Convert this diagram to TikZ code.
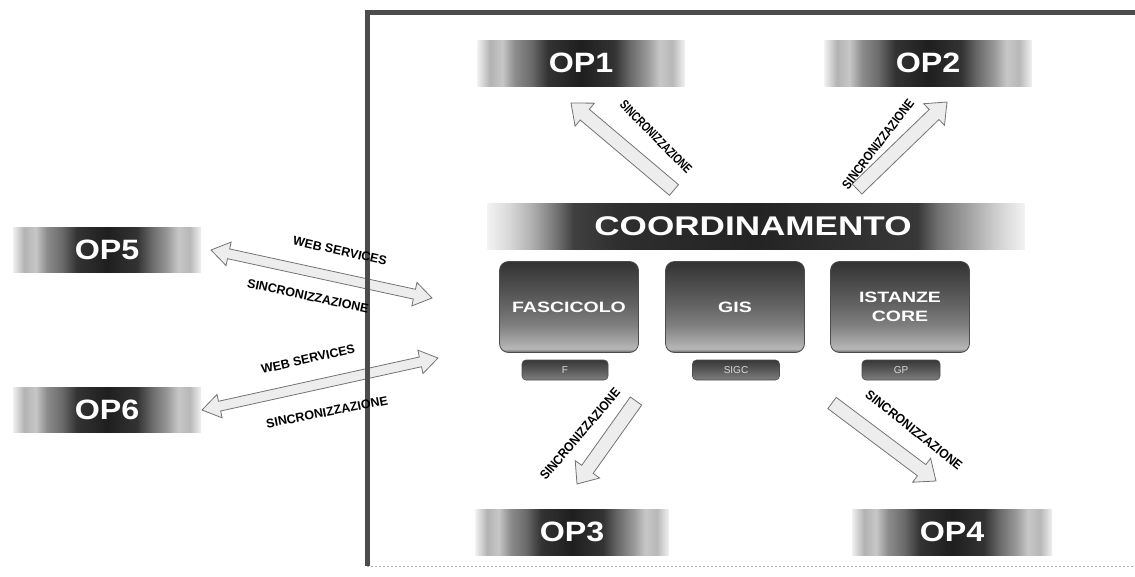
\documentclass[tikz,border=0pt]{standalone}
\usepackage{fontspec}
\usepackage{graphicx}
\setmainfont{Liberation Sans}
\usetikzlibrary{calc}
\pgfdeclarehorizontalshading{opshade}{100bp}{color(0bp)=(black!6); color(25bp)=(black!6); color(28bp)=(black!30); color(31bp)=(black!22); color(34bp)=(black!45); color(38bp)=(black!58); color(42bp)=(black!80); color(50bp)=(black!88); color(58bp)=(black!80); color(62bp)=(black!58); color(66bp)=(black!40); color(69bp)=(black!22); color(72bp)=(black!28); color(75bp)=(black!6); color(100bp)=(black!6)}
\pgfdeclarehorizontalshading{coordshade}{100bp}{color(0bp)=(black!5); color(25bp)=(black!5); color(27bp)=(black!15); color(29bp)=(black!30); color(31bp)=(black!50); color(33bp)=(black!75); color(37.5bp)=(black!82); color(50bp)=(black!86); color(65bp)=(black!78); color(67bp)=(black!55); color(70bp)=(black!35); color(72.5bp)=(black!18); color(75bp)=(black!5); color(100bp)=(black!5)}
\pgfdeclareverticalshading{boxshade}{100bp}{color(0bp)=(black!62); color(25bp)=(black!62); color(27bp)=(black!28); color(31bp)=(black!35); color(40bp)=(black!50); color(50bp)=(black!60); color(62bp)=(black!70); color(75bp)=(black!80); color(100bp)=(black!80)}
\pgfdeclareverticalshading{smallshade}{100bp}{color(0bp)=(black!50); color(25bp)=(black!50); color(50bp)=(black!65); color(75bp)=(black!78); color(100bp)=(black!78)}
\newcommand{\blkarrow}[4]{%
  \coordinate (tmpH) at ($(#2)!18pt!(#1)$);
  \filldraw[blockarr] ($(#1)!#3!90:(#2)$) -- ($(tmpH)!#3!90:(#2)$) -- ($(tmpH)!#4!90:(#2)$) -- (#2) -- ($(tmpH)!#4!-90:(#2)$) -- ($(tmpH)!#3!-90:(#2)$) -- ($(#1)!#3!-90:(#2)$) -- cycle;}
\newcommand{\dblarrow}[4]{%
  \coordinate (tmpH) at ($(#2)!18pt!(#1)$);
  \coordinate (tmpT) at ($(#1)!18pt!(#2)$);
  \filldraw[blockarr] (#1) -- ($(tmpT)!#4!90:(#2)$) -- ($(tmpT)!#3!90:(#2)$) -- ($(tmpH)!#3!90:(#2)$) -- ($(tmpH)!#4!90:(#2)$) -- (#2) -- ($(tmpH)!#4!-90:(#2)$) -- ($(tmpH)!#3!-90:(#2)$) -- ($(tmpT)!#3!-90:(#2)$) -- ($(tmpT)!#4!-90:(#2)$) -- cycle;}
\begin{document}
\begin{tikzpicture}[x=1pt,y=-1pt,
  opbox/.style={shading=opshade, minimum width=207pt, minimum height=46pt, inner sep=0pt, text=white, font=\fontsize{28}{28}\selectfont\bfseries},
  coordbar/.style={shading=coordshade, minimum width=537pt, minimum height=46pt, inner sep=0pt},
  modbox/.style={rounded corners=9pt, shading=boxshade, draw=black!70, line width=0.8pt, minimum width=139pt, minimum height=91pt, inner sep=0pt, text=white, align=center, font=\fontsize{15}{19}\selectfont\bfseries},
  smallbox/.style={rounded corners=4pt, shading=smallshade, draw=black!70, line width=0.6pt, minimum height=20pt, inner sep=0pt, text=black!15, font=\fontsize{10}{10}\selectfont},
  blockarr/.style={fill=black!7, draw=black!55, line width=0.8pt, line join=miter},
  lbl/.style={font=\fontsize{12.5}{12.5}\selectfont\bfseries, inner sep=0pt, text=black},
  dlbl/.style={font=\fontsize{13}{13}\selectfont\bfseries, inner sep=0pt, text=black},
  frameline/.style={draw=black!70, line width=5pt},
  bigtext/.style={text=white, inner sep=0pt, font=\fontsize{27}{27}\selectfont\bfseries}
]
\useasboundingbox (0,0) rectangle (1135,576);
% frame
\draw[black!30, line width=1pt, dash pattern=on 2pt off 2pt] (367,566) -- (1135,566);
% OP nodes
\node[opbox] (op1) at (581,63) {\scalebox{1.15}[1]{OP1}};
\node[opbox] (op2) at (928,63) {\scalebox{1.15}[1]{OP2}};
\node[opbox, minimum width=193pt] (op3) at (572,532) {\scalebox{1.15}[1]{OP3}};
\node[opbox, minimum width=200pt] (op4) at (952,532) {\scalebox{1.15}[1]{OP4}};
\node[opbox, minimum width=188pt, minimum height=45pt] (op5) at (107,250) {\scalebox{1.15}[1]{OP5}};
\node[opbox, minimum width=188pt, minimum height=45pt] (op6) at (107,410) {\scalebox{1.15}[1]{OP6}};
% coordinamento
\node[coordbar] (coord) at (756,226) {};
\node[bigtext] (coordtxt) at (753,226) {\scalebox{1.3}[1]{COORDINAMENTO}};
% modules
\node[modbox] (fasc) at (569,307) {\scalebox{1.3}[1]{FASCICOLO}};
\node[modbox] (gis) at (735,307) {\scalebox{1.3}[1]{GIS}};
\node[modbox] (ist) at (900,307) {\scalebox{1.3}[1]{ISTANZE}\\\scalebox{1.3}[1]{CORE}};
\node[smallbox, minimum width=86pt] (f) at (565,370) {F};
\node[smallbox, minimum width=87pt] (sigc) at (736,370) {SIGC};
\node[smallbox, minimum width=78pt] (gp) at (901,370) {GP};
% arrow endpoints
\coordinate (a1t) at (674,190); \coordinate (a1h) at (571,103);
\coordinate (a2t) at (857,189); \coordinate (a2h) at (947,102);
\coordinate (a3t) at (636,401); \coordinate (a3h) at (577,484);
\coordinate (a4t) at (832,403); \coordinate (a4h) at (936,481);
\coordinate (a5l) at (211,250); \coordinate (a5r) at (432,298);
\coordinate (a6l) at (202,410); \coordinate (a6r) at (438,358);
\blkarrow{a1t}{a1h}{7pt}{15pt}
\blkarrow{a2t}{a2h}{7pt}{15pt}
\blkarrow{a3t}{a3h}{7pt}{15pt}
\blkarrow{a4t}{a4h}{7pt}{15pt}
\dblarrow{a5l}{a5r}{5pt}{12pt}
\dblarrow{a6l}{a6r}{5pt}{12pt}
% frame lines
\draw[frameline] (367,566) -- (367,12) -- (1135,12);
% labels
\node[lbl, rotate=-12.5] (ws5) at (340,251) {WEB SERVICES};
\node[lbl, rotate=-12] (sy5) at (308,296) {SINCRONIZZAZIONE};
\node[lbl, rotate=12.5] (ws6) at (308,359) {WEB SERVICES};
\node[lbl, rotate=11] (sy6) at (327,412) {SINCRONIZZAZIONE};
\node[dlbl, rotate=-45.5] (sy1) at (656,137) {\scalebox{0.75}[1]{SINCRONIZZAZIONE}};
\node[dlbl, rotate=52.5] (sy2) at (878,144) {\scalebox{0.85}[1]{SINCRONIZZAZIONE}};
\node[dlbl, rotate=49.5] (sy3) at (580,434) {\scalebox{0.9}[1]{SINCRONIZZAZIONE}};
\node[dlbl, rotate=-38.5] (sy4) at (914,430) {\scalebox{0.93}[1]{SINCRONIZZAZIONE}};
\end{tikzpicture}
\end{document}
